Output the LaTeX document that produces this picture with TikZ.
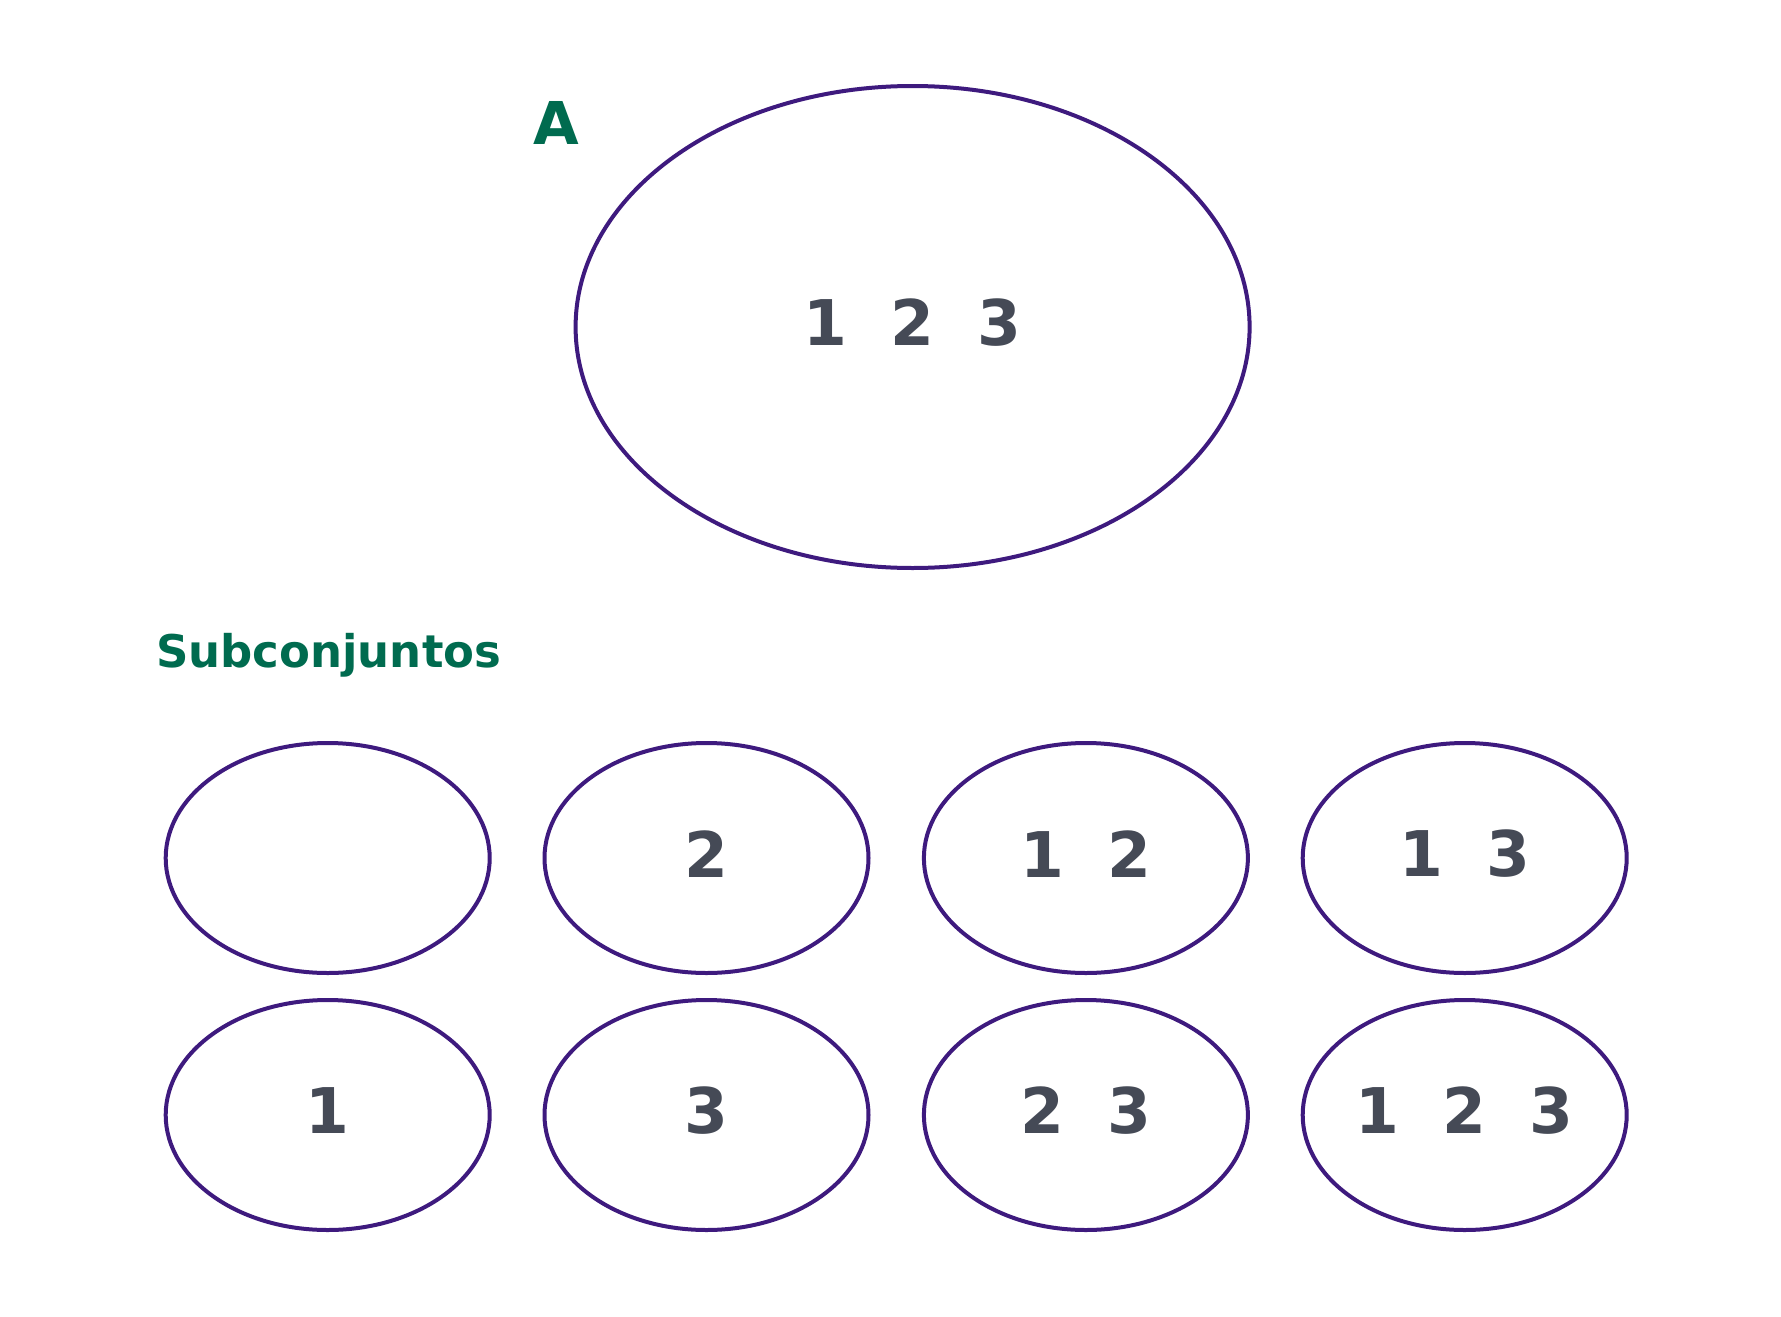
\documentclass[tikz,border=0pt]{standalone}
\usepackage{fontspec}
\setmainfont{DejaVu Sans}
\usetikzlibrary{shapes.geometric}
\definecolor{setline}{HTML}{3E1A7E}
\definecolor{titlegreen}{HTML}{006B4F}
\definecolor{numgray}{HTML}{454A56}
\newcommand{\gapd}{\kern43pt}
\begin{document}
\begin{tikzpicture}[x=1pt,y=-1pt,
  setbig/.style={ellipse, draw=setline, line width=4pt, inner sep=0pt,
    minimum width=674pt, minimum height=482pt},
  setsmall/.style={ellipse, draw=setline, line width=4pt, inner sep=0pt,
    minimum width=324pt, minimum height=230pt},
  numlbl/.style={text=numgray, inner sep=0pt, yshift=4pt,
    font=\fontsize{63}{63}\selectfont\bfseries},
  ttl/.style={text=titlegreen, font=\bfseries, inner sep=0pt}]
\useasboundingbox (0,0) rectangle (1781,1317);
\node[setbig, label={[numlbl]center:1\gapd 2\gapd 3}] (A) at (912.6,327) {};
\node[ttl, font=\fontsize{59}{59}\selectfont\bfseries] (lblA) at (556,123) {A};
\node[ttl, font=\fontsize{45}{45}\selectfont\bfseries, anchor=base west] (sub) at (156,667) {Subconjuntos};
\node[setsmall] (s0) at (327.7,858) {};
\node[setsmall, label={[numlbl]center:2}] (s2) at (706.5,858) {};
\node[setsmall, label={[numlbl]center:1\gapd 2}] (s12) at (1085.9,858) {};
\node[setsmall, label={[numlbl]center:1\gapd 3}] (s13) at (1464.7,858) {};
\node[setsmall, label={[numlbl]center:1}] (s1) at (327.7,1115) {};
\node[setsmall, label={[numlbl]center:3}] (s3) at (706.5,1115) {};
\node[setsmall, label={[numlbl]center:2\gapd 3}] (s23) at (1085.9,1115) {};
\node[setsmall, label={[numlbl]center:1\gapd 2\gapd 3}] (s123) at (1464.7,1115) {};
\end{tikzpicture}
\end{document}
